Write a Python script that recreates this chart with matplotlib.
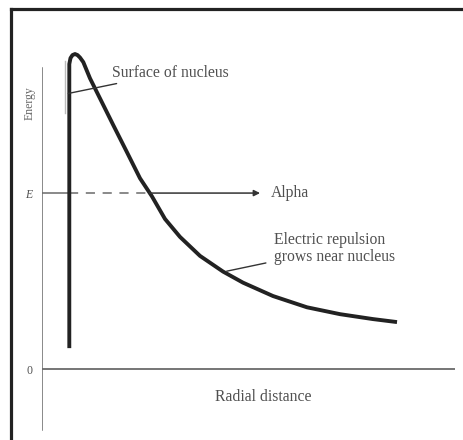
import matplotlib
matplotlib.use("Agg")
import matplotlib.pyplot as plt
from matplotlib.lines import Line2D

# potential energy of an alpha particle vs distance from the nucleus
# wall of the nucleus then the Coulomb barrier
r_curve = [0.661, 0.661, 0.690, 0.738, 0.799, 0.860, 0.920, 1.000, 1.162, 1.404, 1.726,
           2.051, 2.373, 2.663, 2.978, 3.341, 3.826, 4.383, 4.867, 5.593, 6.416, 7.215,
           8.015, 8.596]
e_curve = [0.119, 1.733, 1.767, 1.784, 1.790, 1.784, 1.770, 1.744, 1.652, 1.538, 1.386,
           1.235, 1.084, 0.981, 0.853, 0.751, 0.643, 0.554, 0.491, 0.415, 0.351, 0.312,
           0.284, 0.267]

E_alpha = 1.0          # alpha particle energy
r_wall = 0.661         # nuclear surface
r_cross = 2.60         # where the alpha level meets the barrier
r_arrow = 5.28         # end of the alpha arrow
r_max = 10.0
e_top = 1.710
e_bottom = -0.347

ink = '#222222'
gray = '#6a6a6a'
txt = '#505050'
serif = ['Liberation Serif', 'DejaVu Serif']
fs = 11.3

fig = plt.figure(figsize=(4.64, 4.4), dpi=100)
ax = fig.add_axes([42 / 464, 0, 413 / 464, 1])
ax.set_xlim(0, r_max)
ax.set_ylim(-0.403, 2.097)
for s in ax.spines.values():
    s.set_visible(False)
ax.set_xticks([])
ax.set_yticks([0, E_alpha], labels=['0', 'E'])
ax.tick_params(axis='y', length=0, pad=7, labelsize=8.5, labelcolor=txt)
for lab, st in zip(ax.get_yticklabels(), ['normal', 'italic']):
    lab.set_family(serif)
    lab.set_style(st)

# frame (top and left only)
fig.add_artist(Line2D([11 / 464, 1], [1 - 9 / 440, 1 - 9 / 440], color=ink, lw=2.3))
fig.add_artist(Line2D([11 / 464, 11 / 464], [0, 1 - 9 / 440], color=ink, lw=2.3))

# axes lines
ax.plot([0, 0], [e_bottom, e_top], color=gray, lw=1.1)
ax.plot([0, r_max], [0, 0], color=gray, lw=1.3)

# alpha energy level: solid inside, dashed through barrier, solid outside
ax.plot([0, r_wall], [E_alpha, E_alpha], color=gray, lw=1.1)
ax.plot([r_wall, r_cross], [E_alpha, E_alpha], color=gray, lw=1.1, dashes=(6, 5))
ax.annotate('', xy=(r_arrow, E_alpha), xytext=(r_cross, E_alpha),
            arrowprops=dict(arrowstyle='-|>', color='#333333', lw=1.1,
                            mutation_scale=9, shrinkA=0, shrinkB=0))
ax.text(r_arrow + 0.25, E_alpha, 'Alpha', family=serif, fontsize=fs,
        color=txt, va='center', ha='left')

# surface of nucleus marker
ax.plot([0.557, 0.557], [1.455, 1.750], color='#bbbbbb', lw=1.0)

# potential curve
ax.plot(r_curve, e_curve, color=ink, lw=2.8, solid_capstyle='butt',
        solid_joinstyle='round')

# annotations
ax.annotate('Surface of nucleus', xy=(0.637, 1.566), xytext=(1.70, 1.685),
            family=serif, fontsize=fs, color=txt, va='center', ha='left',
            arrowprops=dict(arrowstyle='-', color='#333333', lw=1.0,
                            shrinkA=1, shrinkB=0))
ax.annotate('Electric repulsion\ngrows near nucleus', xy=(4.47, 0.556), xytext=(5.62, 0.685),
            family=serif, fontsize=fs, color=txt, va='center', ha='left',
            linespacing=1.05,
            arrowprops=dict(arrowstyle='-', color='#333333', lw=1.0,
                            shrinkA=4, shrinkB=0))

ax.text(-0.29, 1.51, 'Energy', family=serif, fontsize=8.5, color='#666666',
        rotation=90, ha='center', va='center')
ax.text(5.35, -0.159, 'Radial distance', family=serif, fontsize=fs, color=txt,
        ha='center', va='center')

fig.savefig('out.png', dpi=100)
